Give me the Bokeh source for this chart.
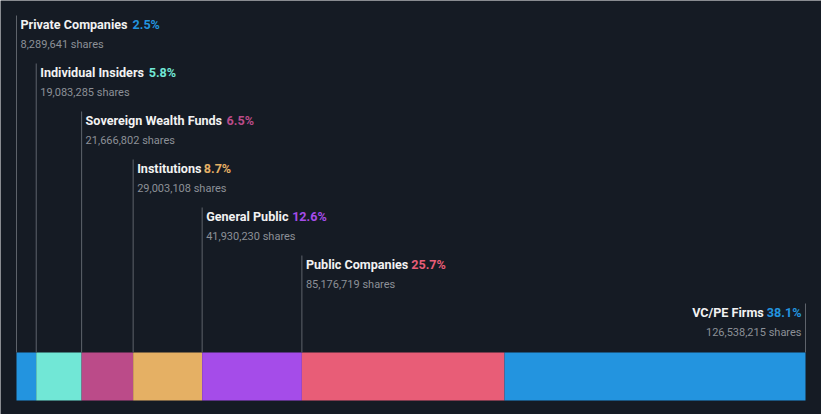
from bokeh.plotting import figure
from bokeh.models import ColumnDataSource, Range1d
from bokeh.core.properties import value
from bokeh.embed import file_html
from bokeh.resources import INLINE

categories = ["Private Companies", "Individual Insiders", "Sovereign Wealth Funds",
              "Institutions", "General Public", "Public Companies", "VC/PE Firms"]
shares = [8289641, 19083285, 21666802, 29003108, 41930230, 85176719, 126538215]
percent_labels = ["2.5%", "5.8%", "6.5%", "8.7%", "12.6%", "25.7%", "38.1%"]
colors = ["#2394df", "#71e7d6", "#bb4b89", "#e5b064", "#a54ce9", "#e85d77", "#2394df"]

BG = "#151b24"
W, H = 821, 414
PAD = 16
total = sum(shares)
lefts, rights = [], []
acc = 0
for s in shares:
    lefts.append(acc)
    acc += s
    rights.append(acc)

n = len(categories)
# label layout (stepping down 48px per category), y measured from page top
title_y = [H - (24 + 48 * i) for i in range(n)]
share_y = [H - (44 + 48 * i) for i in range(n)]
line_top = [H - (15 + 48 * i) for i in range(n)]
bar_top, bar_bot = H - 352, H - 400
anchor_x = [lefts[i] for i in range(n - 1)] + [rights[-1]]
name_w = [112, 108.5, 141, 66.6, 86, 105.3]  # pixel width of name + space

pad_units = PAD * total / (W - 2 * PAD)
p = figure(width=W, height=H, output_backend="svg", toolbar_location=None,
           x_range=Range1d(-pad_units, total + pad_units), y_range=Range1d(0, H),
           min_border=0, min_border_left=0, min_border_right=0,
           min_border_top=0, min_border_bottom=0,
           background_fill_color=BG, border_fill_color=BG, outline_line_color=None)
p.axis.visible = False
p.grid.visible = False

bars = ColumnDataSource(dict(left=lefts, right=rights, color=colors))
p.quad(left="left", right="right", bottom=bar_bot, top=bar_top, fill_color="color",
       line_color=None, source=bars)

lines = ColumnDataSource(dict(x=anchor_x, y0=[bar_top] * n, y1=line_top))
p.segment(x0="x", y0="y0", x1="x", y1="y1", line_color="#5e636b", line_width=1, source=lines)

font = value("Roboto")
TS = "12.6px"
SS = "11px"
# left-aligned labels
L = n - 1
src = ColumnDataSource(dict(x=anchor_x[:L], ty=title_y[:L], sy=share_y[:L],
                            name=categories[:L], pct=percent_labels[:L],
                            pw=[4 + w for w in name_w], col=colors[:L],
                            sh=[f"{s:,} shares" for s in shares[:L]]))
p.text(x="x", y="ty", text="name", x_offset=4, text_baseline="middle",
       text_color="#f2f2f2", text_font=font, text_font_style="bold",
       text_font_size=TS, source=src)
p.text(x="x", y="ty", text="pct", x_offset="pw", text_baseline="middle",
       text_color="col", text_font=font, text_font_style="bold",
       text_font_size=TS, source=src)
p.text(x="x", y="sy", text="sh", x_offset=4, text_baseline="middle",
       text_color="#8c9097", text_font=font, text_font_size=SS, source=src)

# right-aligned last label
i = n - 1
p.text(x=[anchor_x[i]], y=[title_y[i]], text=[percent_labels[i]], x_offset=-4,
       text_align="right", text_baseline="middle", text_color=colors[i],
       text_font=font, text_font_style="bold", text_font_size=TS)
p.text(x=[anchor_x[i]], y=[title_y[i]], text=[categories[i]], x_offset=-4 - 37.7,
       text_align="right", text_baseline="middle", text_color="#f2f2f2",
       text_font=font, text_font_style="bold", text_font_size=TS)
p.text(x=[anchor_x[i]], y=[share_y[i]], text=[f"{shares[i]:,} shares"], x_offset=-4,
       text_align="right", text_baseline="middle", text_color="#8c9097",
       text_font=font, text_font_size=SS)

html = file_html(p, INLINE)
html = html.replace("<body>", f'<body style="background:{BG};margin:0;">', 1)
open("out.html", "w").write(html)
